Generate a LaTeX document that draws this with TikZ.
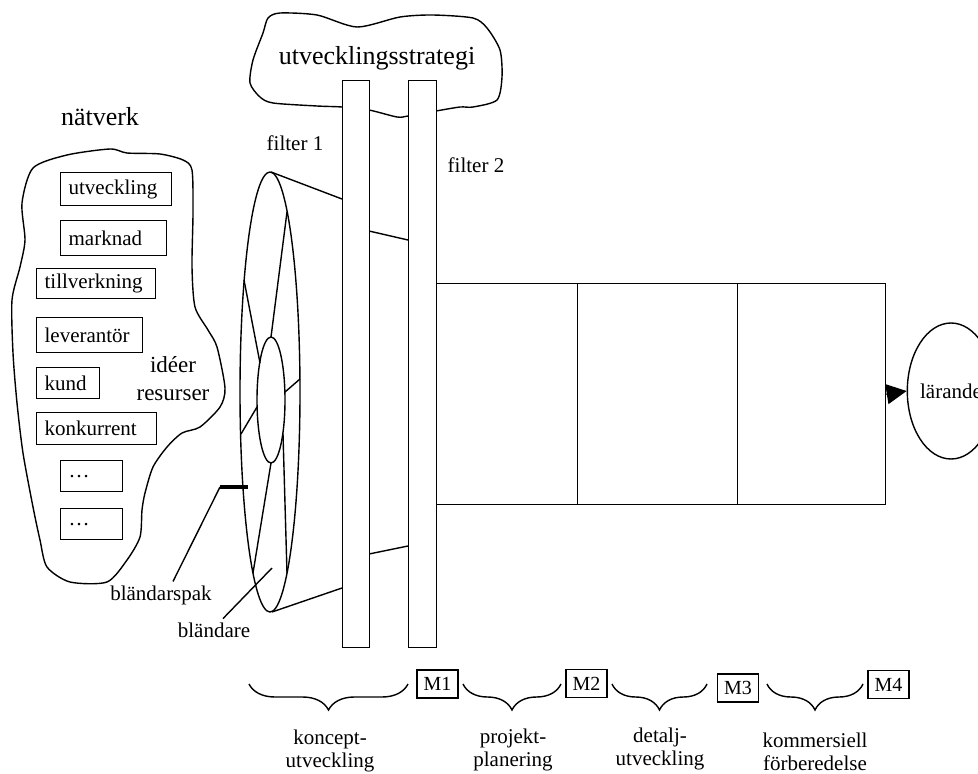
\documentclass[tikz,border=0pt]{standalone}
\usepackage{fontspec}
\setmainfont{Liberation Serif}
\usetikzlibrary{arrows.meta,shapes.geometric,decorations.pathreplacing}

\begin{document}
\begin{tikzpicture}[x=1pt,y=-1pt,line width=1.4pt,font=\fontsize{21}{23}\selectfont,
  stor/.style={font=\fontsize{26}{28}\selectfont},
  kort/.style={draw,line width=1.2pt,anchor=north west,inner xsep=8pt,inner ysep=0pt},
  milstolpe/.style={draw,line width=1.2pt,minimum width=41pt,minimum height=28pt,inner sep=0pt,font=\fontsize{20}{22}\selectfont},
  fas/.style={draw,anchor=north west,minimum height=221pt,inner sep=0pt},
  filter/.style={draw,fill=white,anchor=north west,minimum width=27pt,minimum height=567pt,inner sep=0pt},
  klammer/.style={decorate,decoration={brace,mirror,amplitude=26pt}}]
  \useasboundingbox (0,0) rectangle (978,774);
  \draw[fill=white] plot[smooth cycle,tension=0.45] coordinates {(268,18) (280,13) (317,15) (357,27) (400,17) (433,15) (473,18) (487,28) (500,50) (502,77) (497,100) (473,107) (460,107) (436,111) (408,116) (397,117) (369,110) (342,107) (317,106) (273,103) (260,97) (250,83) (253,60) (263,33)};
  \node[stor] (strategi) at (377,58) {utvecklingsstrategi};
  \draw plot[smooth cycle,tension=0.45] coordinates {(33,168) (67,155) (110,149) (127,153) (160,154) (183,160) (192,170) (193,213) (192,267) (195,307) (208,330) (217,347) (225,388) (220,407) (200,427) (182,433) (167,447) (153,467) (145,493) (142,510) (140,537) (127,560) (107,582) (70,582) (47,567) (40,540) (33,507) (23,453) (17,403) (13,353) (12,300) (20,267) (25,240) (22,203)};
  \node[stor] (natverk) at (100,117) {nätverk};
  \foreach \x/\y/\w/\h/\t [count=\i] in {60/172/95/33/utveckling,60/220/90/35/marknad,36/268/103/30/tillverkning,36/317/90/35/leverantör,36/367/47/31/kund,36/412/104/32/konkurrent,60/460/46/31/\dots,60/508/46/31/\dots}
    \node[kort,text width=\w pt,minimum height=\h pt] (aktor\i) at (\x,\y) {\t};
  \node[align=center,font=\fontsize{23}{28}\selectfont] (resurser) at (173,379) {idéer\\resurser};
  \node[ellipse,draw,minimum width=60pt,minimum height=440pt,inner sep=0pt] (blandare) at (270,392) {};
  \node[ellipse,draw,minimum width=28pt,minimum height=126pt,inner sep=0pt] (oppning) at (271,400) {};
  \draw (287,212) -- (271,337);
  \draw (244,280) -- (260,363);
  \draw (285,392) -- (300,379);
  \draw (241,434) -- (257,407);
  \draw (271,463) -- (253,573);
  \draw (283,434) -- (287,573);
  \draw (271,172) -- (342,199);
  \draw (369,231) -- (408,240);
  \draw (272,612) -- (342,588);
  \draw (369,554) -- (408,546);
  \node[filter] (filter1) at (342,80) {};
  \node[filter,minimum width=28pt] (filter2) at (408,80) {};
  \node (f1text) at (295,143) {filter 1};
  \node (f2text) at (476,165) {filter 2};
  \node[fas,minimum width=141pt] (fas1) at (436,283) {};
  \node[fas,minimum width=160pt] (fas2) at (577,283) {};
  \node[fas,minimum width=148pt] (fas3) at (737,283) {};
  \node[ellipse,draw,minimum width=78pt,minimum height=136pt,inner sep=0pt] (larande) at (951,391) {lärande};
  \draw[-{Triangle[length=20pt,width=20pt]}] (fas3.east) -- (larande.west);
  \coordinate (spak) at (220,487);
  \draw[line width=4pt] (spak) -- (248,487);
  \node (spaktext) at (161,595) {bländarspak};
  \draw ([xshift=12pt]spaktext.north) -- (spak);
  \coordinate (blpunkt) at (272,568);
  \node (bltext) at (214,630) {bländare};
  \draw ([xshift=9pt]bltext.north) -- (blpunkt);
  \draw[klammer] (249,684) -- (408,684);
  \draw[klammer] (463,684) -- (561,684);
  \draw[klammer] (612,684) -- (707,684);
  \draw[klammer] (767,684) -- (863,684);
  \node[milstolpe] (m1) at (437.5,684) {M1};
  \node[milstolpe] (m2) at (586.5,683.5) {M2};
  \node[milstolpe] (m3) at (738,688) {M3};
  \node[milstolpe] (m4) at (888.5,684.5) {M4};
  \node[align=center] (koncept) at (330,751) {koncept-\\utveckling};
  \node[align=center] (projekt) at (513,750) {projekt-\\planering};
  \node[align=center] (detalj) at (660,749) {detalj-\\utveckling};
  \node[align=center] (kommers) at (815,752) {kommersiell\\förberedelse};
\end{tikzpicture}
\end{document}
